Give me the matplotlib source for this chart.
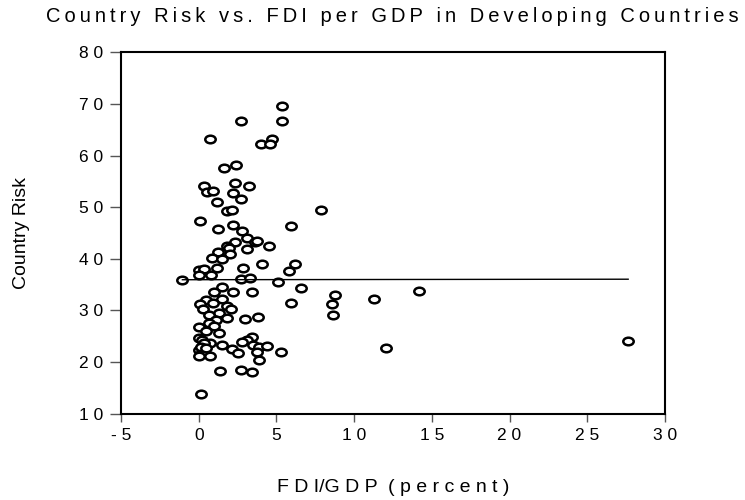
import numpy as np
import matplotlib
matplotlib.use('Agg')
import matplotlib.pyplot as plt
from matplotlib.path import Path

plt.rcParams['font.family'] = ['Liberation Sans', 'DejaVu Sans']

# FDI/GDP (percent) and country risk
fdi = [5.34, 5.34, 2.70, 0.70, 4.72, 4.00, 4.60, 2.42, 1.60,
       0.36, 0.55, 0.94, 2.34, 3.26, 2.23, 2.74, 1.16, 1.85, 2.15, 7.90,
       0.08, 5.96, 1.27, 2.19, 2.77, 3.12, 2.35, 3.61, 3.75, 4.50, 1.85, 1.92,
       3.10, 1.22, 2.00, 0.88, 1.47,
       4.10, 6.22, 1.15, 2.82, 5.80, 0.05, 0.35, 0.02, 0.80, -1.05, 2.75, 3.32,
       5.08, 6.55, 1.48, 0.97, 2.23, 3.45, 8.74, 14.16, 11.31,
       1.50, 0.45, 0.08, 0.94, 5.93, 8.60, 0.30, 1.80, 2.05, 1.30, 0.65, 8.65,
       1.85, 2.95, 3.80, 1.10, 0.65, 1.00, 0.03, 0.45, 1.32,
       0.00, 0.20, 3.45, 3.10, 2.76, 3.50, 3.85, 4.40, 0.75, 0.35, 1.47, 27.63,
       2.15, 0.05, 0.32, 12.02, 5.30, 3.78, 2.55, 0.20, 0.00, 0.72, 3.87,
       1.35, 2.70, 3.43, 0.15, 0.15, 0.50]
risk = [69.6, 66.6, 66.6, 63.2, 63.2, 62.2, 62.2, 58.2, 57.5,
        54.1, 53.0, 53.1, 54.6, 54.2, 52.8, 51.5, 51.0, 49.2, 49.4, 49.5,
        47.3, 46.4, 45.7, 46.5, 45.4, 44.0, 43.2, 43.3, 43.5, 42.4, 42.4, 42.0,
        41.9, 41.3, 40.9, 40.2, 39.9,
        39.0, 38.9, 38.2, 38.2, 37.6, 37.9, 38.0, 36.8, 36.9, 35.9, 36.1, 36.2,
        35.6, 34.3, 34.6, 33.6, 33.5, 33.6, 33.0, 33.8, 32.3,
        32.3, 32.0, 31.2, 31.5, 31.5, 31.2, 30.2, 30.8, 30.3, 29.5, 29.1, 29.2,
        28.5, 28.4, 28.8, 28.1, 27.5, 27.0, 26.7, 26.1, 25.7,
        24.6, 24.2, 24.9, 24.3, 23.8, 23.4, 23.0, 23.2, 23.6, 23.7, 23.3, 24.0,
        22.5, 22.4, 22.3, 22.7, 22.0, 21.9, 21.7, 21.9, 21.1, 21.1, 20.4,
        18.3, 18.5, 18.0, 13.9, 23.0, 22.8]

# fitted line end points
fit_x = [-1.05, 27.63]
fit_y = [35.95, 36.05]

x_ticks = [-5, 0, 5, 10, 15, 20, 25, 30]
y_ticks = [10, 20, 30, 40, 50, 60, 70, 80]


def spaced(s, sep):
    ''' wide letter spacing like the original export '''
    return sep.join(s)


# slightly flattened circle marker
circ = Path.unit_circle()
oval = Path(circ.vertices * np.array([1.37, 1.0]), circ.codes)

fig = plt.figure(figsize=(7.45, 5.0), dpi=100)
ax = fig.add_axes([0.1624, 0.1726, 0.7302, 0.7228])

ax.plot(fdi, risk, linestyle='none', marker=oval, markersize=7.5,
        markerfacecolor='white', markeredgecolor='black', markeredgewidth=1.8)
ax.plot(fit_x, fit_y, color='black', linewidth=1.0)

ax.set_xlim(-5, 30)
ax.set_ylim(10, 80)
ax.set_xticks(x_ticks)
ax.set_yticks(y_ticks)
ax.set_xticklabels([spaced(str(t), ' ') for t in x_ticks], fontsize=12.5)
ax.set_yticklabels([spaced(str(t), ' ') for t in y_ticks], fontsize=12.5)
ax.tick_params(axis='x', direction='out', length=6, width=1, color='#555555', pad=4)
ax.tick_params(axis='y', direction='out', length=8, width=1, color='#555555', pad=5)
for sp in ax.spines.values():
    sp.set_linewidth(1.5)
    sp.set_color('black')

fig.text(0.029, 0.534, 'Country Risk', rotation=90, ha='center', va='center',
         fontsize=14)
xlab = 'F D I/G D P  ( p e r c e n t )'
fig.text(0.528, 0.026, xlab, ha='center', va='center', fontsize=14)
fig.text(0.526, 0.966,
         spaced('Country Risk vs. FDI per GDP in Developing Countries', '\u2009'),
         ha='center', va='center', fontsize=14.5)

plt.savefig('out.png', dpi=100)
